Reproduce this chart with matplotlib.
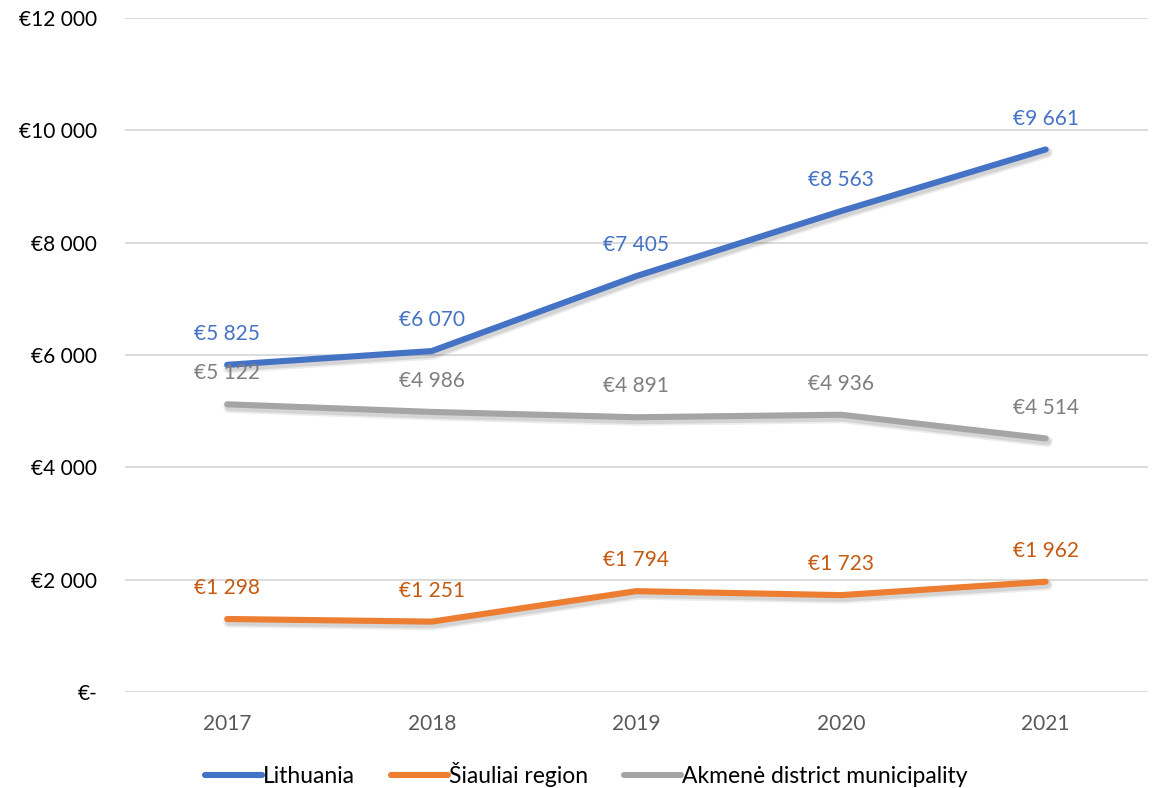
import matplotlib
matplotlib.use("Agg")
import matplotlib.pyplot as plt
import matplotlib.patheffects as pe
from matplotlib.ticker import FuncFormatter

years = ["2017", "2018", "2019", "2020", "2021"]
lithuania = [5825, 6070, 7405, 8563, 9661]
siauliai = [1298, 1251, 1794, 1723, 1962]
akmene = [5122, 4986, 4891, 4936, 4514]

series = [
    ("Lithuania", lithuania, "#4472c4", "#4472c4"),
    ("Šiauliai region", siauliai, "#ed7d31", "#c55a11"),
    ("Akmenė district municipality", akmene, "#a5a5a5", "#7f7f7f"),
]

plt.rcParams['font.family'] = ['Lato', 'DejaVu Sans']

fig = plt.figure(figsize=(11.56, 7.88), dpi=100)
ax = fig.add_axes([0.108, 0.122, 0.885, 0.855])

x = list(range(len(years)))

def fmt(v):
    return "€" + f"{int(v):,}".replace(",", " ")

shadow = [pe.SimpleLineShadow(offset=(1.2, -2.2), shadow_color='black', alpha=0.07, linewidth=8),
          pe.SimpleLineShadow(offset=(1.2, -2.2), shadow_color='black', alpha=0.10, linewidth=5.5),
          pe.Normal()]

for name, vals, col, lcol in series:
    ax.plot(x, vals, color=col, lw=4.4, solid_capstyle='round', solid_joinstyle='round',
            label=name, zorder=3, path_effects=shadow)
    for xi, v in zip(x, vals):
        ax.annotate(fmt(v), (xi, v), xytext=(0, 15), textcoords='offset points',
                    ha='center', va='bottom', color=lcol, fontsize=15)

ax.set_xlim(-0.5, 4.5)
ax.set_ylim(0, 12000)
ax.set_yticks(range(0, 12001, 2000))
ax.yaxis.set_major_formatter(FuncFormatter(lambda v, p: "€-" if v == 0 else fmt(v)))
ax.set_xticks(x)
ax.set_xticklabels(years)
ax.grid(axis='y', color='#d9d9d9', lw=1.3)
ax.set_axisbelow(True)
for s in ax.spines.values():
    s.set_visible(False)
ax.tick_params(axis='both', length=0, labelsize=15)
ax.tick_params(axis='y', pad=20, labelcolor='black')
ax.tick_params(axis='x', pad=16, labelcolor='#595959')

leg = fig.legend(loc='center', bbox_to_anchor=(0.507, 0.0165), ncol=3, frameon=False,
                 fontsize=16.5, handlelength=2.5, handletextpad=0.05, columnspacing=1.55)
for h in leg.get_lines():
    h.set_linewidth(4.4)
    h.set_path_effects([])

fig.savefig("out.png", dpi=100)
